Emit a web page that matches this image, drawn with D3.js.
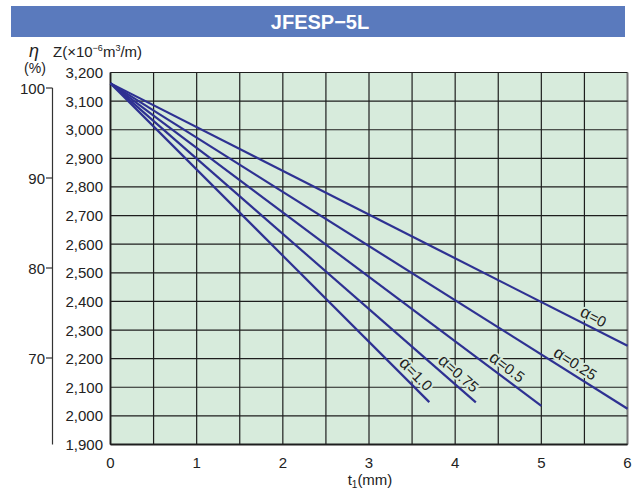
<!doctype html>
<html>
<head>
<meta charset="utf-8">
<title>JFESP-5L</title>
<style>
  body { margin:0; background:#fff; }
  text { font-family: "Liberation Sans", Arial, Helvetica, sans-serif; fill:#222; }
  .grid line { stroke:#1e1e1e; stroke-width:1.2; }
  .curve { fill:none; stroke:#2e3192; stroke-width:2.2; }
  .alpha { stroke:#d7ebdc; stroke-width:4; paint-order:stroke; stroke-linejoin:round; }
</style>
</head>
<body>
<div id="vis"></div>
<script src="https://cdn.jsdelivr.net/npm/d3@7"></script>
<script>
  var width = 635, height = 491;

  // data
  var title = "JFESP\u22125L";
  var zTicks = [1900,2000,2100,2200,2300,2400,2500,2600,2700,2800,2900,3000,3100,3200];
  var tTicks = [0,1,2,3,4,5,6];
  var etaTicks = [70,80,90,100];
  var alphas = ["0","0.25","0.5","0.75","1.0"];
  var startZ = 3162;
  var endT = [6, 6, 5, 4.24, 3.70];
  var endZ = [2245, 2025, 2035, 2047, 2048];
  var labelT = [5.55, 5.33, 4.53, 3.96, 3.46];

  var svg = d3.select("#vis").append("svg")
    .attr("width", width).attr("height", height);

  var x = d3.scaleLinear().domain([0, 6]).range([110.5, 627.5]);
  var y = d3.scaleLinear().domain([1900, 3200]).range([444.5, 72.5]);
  var eta = d3.scaleLinear().domain([70, 100]).range([358, 88]);

  // title bar
  svg.append("rect").attr("x", 11).attr("y", 6).attr("width", 614).attr("height", 31)
    .style("fill", "#5a7abd");
  svg.append("text").attr("x", 320).attr("y", 29).attr("text-anchor", "middle")
    .style("fill", "#fff").style("font-size", "20px").style("font-weight", "bold")
    .text(title);

  // plot background
  svg.append("rect")
    .attr("x", x(0)).attr("y", y(3200))
    .attr("width", x(6) - x(0)).attr("height", y(1900) - y(3200))
    .style("fill", "#d7ebdc");

  var grid = svg.append("g").attr("class", "grid");
  d3.range(0, 6.01, 0.5).forEach(function(v){
    grid.append("line").attr("x1", x(v)).attr("x2", x(v))
      .attr("y1", y(3200)).attr("y2", y(1900))
      .style("stroke", v == 6 ? "#777" : null)
      .style("stroke-width", v == 6 ? 2 : null);
  });
  zTicks.forEach(function(v){
    grid.append("line").attr("x1", x(0)).attr("x2", x(6))
      .attr("y1", y(v)).attr("y2", y(v));
  });
  grid.append("line").attr("x1", x(0)).attr("x2", x(0))
    .attr("y1", y(3200)).attr("y2", y(1900)).style("stroke-width", 1.8);
  grid.append("line").attr("x1", x(0)).attr("x2", x(6))
    .attr("y1", y(1900)).attr("y2", y(1900)).style("stroke-width", 1.8);

  // Z tick labels
  svg.append("g").selectAll("text").data(zTicks).enter().append("text")
    .attr("x", 103).attr("y", function(d){ return y(d) + 5.5; })
    .attr("text-anchor", "end").style("font-size", "15px")
    .text(d3.format(","));

  // t tick labels
  svg.append("g").selectAll("text").data(tTicks).enter().append("text")
    .attr("x", function(d){ return x(d); }).attr("y", 468)
    .attr("text-anchor", "middle").style("font-size", "15px")
    .text(function(d){ return d; });

  var xl = svg.append("text").attr("x", 370).attr("y", 485)
    .attr("text-anchor", "middle").style("font-size", "15px");
  xl.append("tspan").text("t");
  xl.append("tspan").attr("dy", 3).style("font-size", "10px").text("1");
  xl.append("tspan").attr("dy", -3).text("(mm)");

  // Z header
  var zl = svg.append("text").attr("x", 53).attr("y", 57).style("font-size", "15px");
  zl.append("tspan").text("Z(\u00d710");
  zl.append("tspan").attr("dy", -6).style("font-size", "9px").text("\u22126");
  zl.append("tspan").attr("dy", 6).text("m");
  zl.append("tspan").attr("dy", -6).style("font-size", "9px").text("3");
  zl.append("tspan").attr("dy", 6).text("/m)");

  // eta axis
  svg.append("text").attr("x", 34).attr("y", 57).attr("text-anchor", "middle")
    .style("font-size", "18px").style("font-style", "italic").text("\u03b7");
  svg.append("text").attr("x", 35).attr("y", 73).attr("text-anchor", "middle")
    .style("font-size", "14px").text("(%)");
  svg.append("line").attr("x1", 52.5).attr("x2", 52.5)
    .attr("y1", eta(100)).attr("y2", y(1900))
    .style("stroke", "#333").style("stroke-width", 1.2);
  var et = svg.append("g").selectAll("g").data(etaTicks).enter().append("g");
  et.append("line").attr("x1", 46).attr("x2", 52.5)
    .attr("y1", function(d){ return eta(d); }).attr("y2", function(d){ return eta(d); })
    .style("stroke", "#333").style("stroke-width", 1.2);
  et.append("text").attr("x", 45).attr("y", function(d){ return eta(d) + 5.5; })
    .attr("text-anchor", "end").style("font-size", "15px")
    .text(function(d){ return d; });

  // curves
  var line = d3.line().x(function(d){ return x(d[0]); }).y(function(d){ return y(d[1]); });
  alphas.forEach(function(a, i){
    svg.append("path").attr("class", "curve")
      .attr("d", line([[0, startZ], [endT[i], endZ[i]]]));
  });
  alphas.forEach(function(a, i){
    var slope = (endZ[i] - startZ) / endT[i];
    var t = labelT[i], z = startZ + slope * t;
    var px = x(t), py = y(z);
    var ang = Math.atan2(y(z + slope) - py, x(t + 1) - px) * 180 / Math.PI;
    var lab = svg.append("text").attr("class", "alpha")
      .attr("transform", "translate(" + px + "," + py + ") rotate(" + ang + ")")
      .attr("y", -5).attr("text-anchor", "middle").style("font-size", "15px");
    lab.append("tspan").style("font-size", "17px").text("\u03b1");
    lab.append("tspan").text("=" + a);
  });
</script>
</body>
</html>
